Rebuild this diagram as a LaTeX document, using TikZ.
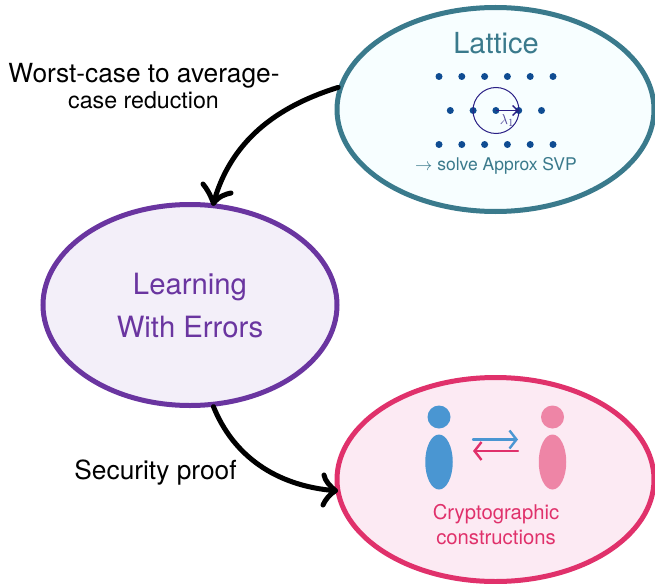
\documentclass[tikz,border=0pt]{standalone}
\usepackage{fontspec}
\setmainfont{TeX Gyre Heros}
\usetikzlibrary{shapes.geometric,arrows.meta}
\definecolor{teal1}{HTML}{3A7A8C}
\definecolor{purp}{HTML}{6A35A0}
\definecolor{rose}{HTML}{E0316B}
\definecolor{dotb}{HTML}{0F4C92}
\definecolor{circ}{HTML}{2A1F85}
\definecolor{bluep}{HTML}{4A96D2}
\definecolor{pinkp}{HTML}{EE85A6}
\definecolor{latfill}{HTML}{F7FEFF}
\definecolor{lwefill}{HTML}{F3EFF9}
\definecolor{cryfill}{HTML}{FCEAF3}
\tikzset{
 x=1pt,y=-1pt,
 blob/.style={ellipse,draw,line width=5pt,inner sep=0pt,outer sep=2.5pt},
 flow/.style={line width=5pt,line cap=round,line join=round,black},
 ldot/.style={circle,fill=dotb,inner sep=0pt,minimum size=7pt},
 lbl/.style={inner sep=0pt,font=\fontsize{26.3}{26.3}\selectfont,align=center},
}
\begin{document}
\begin{tikzpicture}
\useasboundingbox (0,0) rectangle (655,583);
\node[blob,draw=teal1,fill=latfill,minimum width=317pt,minimum height=204pt] (lat) at (495.5,109.5) {};
\node[blob,draw=purp,fill=lwefill,minimum width=294pt,minimum height=201pt] (lwe) at (190,305) {};
\node[blob,draw=rose,fill=cryfill,minimum width=317pt,minimum height=204pt] (cry) at (495.5,479.5) {};
% lattice
\node[inner sep=0pt,text=teal1,font=\fontsize{29}{29}\selectfont] (lt) at (496,43) {Lattice};
\foreach \i in {0,...,5}{
 \node[ldot] (a\i) at (439+22.8*\i,76.5) {};
 \node[ldot] (c\i) at (439+22.8*\i,144.5) {};
}
\foreach \i in {0,...,4}{
 \node[ldot] (b\i) at (450.3+22.8*\i,110.5) {};
}
\node[circle,draw=circ,line width=1pt,minimum size=46pt,inner sep=0pt] (ring) at (496,110.5) {};
\draw[circ,line width=1.4pt,-{Straight Barb[length=5pt,width=10pt]}] (b2.center) -- (b3.center);
\node[inner sep=0pt,text=circ!85,font=\fontsize{15}{15}\selectfont] (lam) at (507,120.5) {$\lambda_1$};
\node[inner sep=0pt,text=teal1,font=\fontsize{17.5}{17.5}\selectfont] (svp) at (496,166) {$\rightarrow$ solve Approx SVP};
% lwe
\node[inner sep=0pt,text=purp,font=\fontsize{29.3}{43}\selectfont,align=center] (lwt) at (190,306) {Learning\\With Errors};
% crypto
\node[circle,fill=bluep,inner sep=0pt,minimum size=23pt] (h1) at (439,417) {};
\node[ellipse,fill=bluep,inner sep=0pt,minimum width=27.5pt,minimum height=55pt] (b1x) at (439,462) {};
\node[circle,fill=pinkp,inner sep=0pt,minimum size=23pt] (h2) at (552.5,417) {};
\node[ellipse,fill=pinkp,inner sep=0pt,minimum width=27.5pt,minimum height=55pt] (b2x) at (552.5,462) {};
\coordinate (p1) at (473,439.5);
\coordinate (p2) at (518,439.5);
\coordinate (q1) at (518,451);
\coordinate (q2) at (473,451);
\draw[bluep,line width=2.4pt,line cap=round,-{Straight Barb[length=7pt,width=18pt]}] (p1) -- (p2);
\draw[rose,line width=2.4pt,line cap=round,-{Straight Barb[length=7pt,width=18pt]}] (q1) -- (q2);
\node[inner sep=0pt,text=rose,font=\fontsize{20.3}{25}\selectfont,align=center] (ct) at (496,524.5) {Cryptographic\\constructions};
% labels
\node[lbl] (l1) at (144,75.5) {Worst-case to average-};
\node[lbl,font=\fontsize{23.2}{23.2}\selectfont] (l2) at (143.5,100.5) {case reduction};
\node[lbl] (l3) at (155.5,472.5) {Security proof};
% connectors
\coordinate (t1) at (lwe.77);
\draw[flow] (lat.172) .. controls (285,104) and (232,135) .. (t1);
\draw[flow] (203,184) .. controls (207,189) and (210,194) .. (t1) .. controls (219,196) and (226,194) .. (231,193);
\coordinate (t2) at (cry.184);
\draw[flow] (lwe.283) .. controls (233,455) and (275,486) .. (t2);
\draw[flow] (324,475) .. controls (325,481) and (330,486) .. (t2) .. controls (330,494) and (325,500) .. (323,505);
\end{tikzpicture}
\end{document}
